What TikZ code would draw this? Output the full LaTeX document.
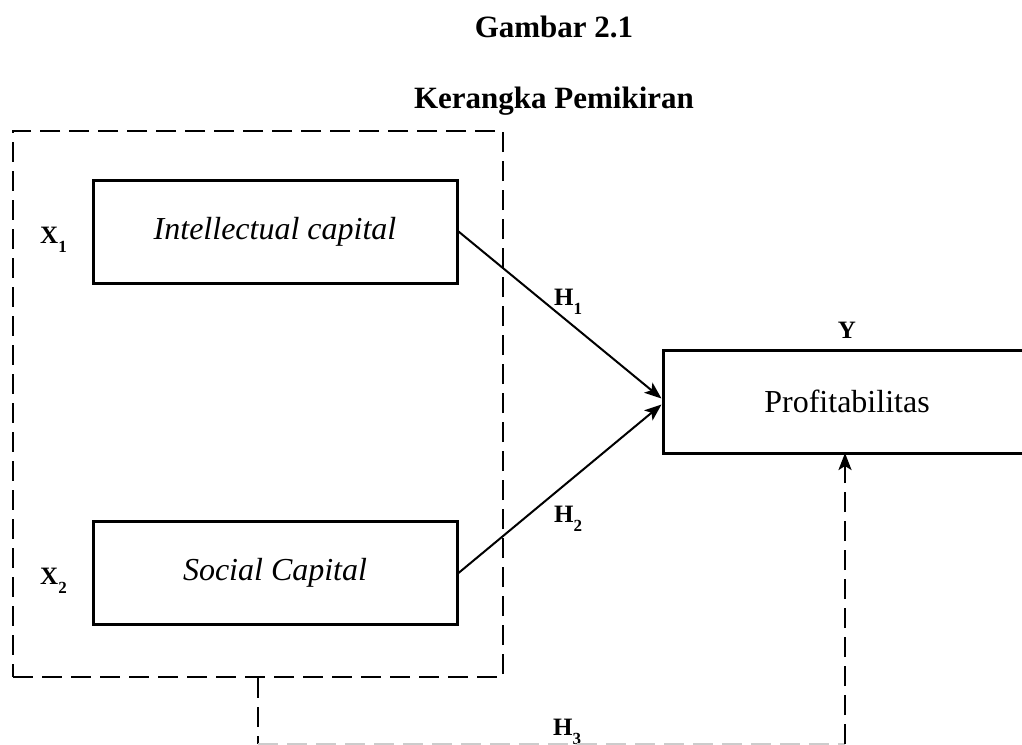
\documentclass[tikz,border=0pt]{standalone}
\usepackage{fontspec}
\setmainfont{Liberation Serif}
\usetikzlibrary{arrows.meta,calc}
\newcommand{\lsub}[1]{\raisebox{-9pt}{\fontsize{17}{17}\selectfont\bfseries #1}}
\begin{document}
\begin{tikzpicture}[x=1pt,y=-1pt,
  box/.style={draw,line width=3pt,minimum width=364pt,minimum height=103pt,inner sep=0pt,
    font=\fontsize{32}{38}\selectfont\itshape},
  lbl/.style={font=\fontsize{25}{29}\selectfont\bfseries,inner sep=0pt,anchor=base west},
  ttl/.style={font=\fontsize{31}{36}\selectfont\bfseries,inner sep=0pt,anchor=base},
  dsh/.style={line width=2.5pt,dash pattern=on 20pt off 9pt},
  arr/.style={line width=2pt,-{Stealth[length=17pt,width=13pt,inset=4pt]}}]
\useasboundingbox (0,0) rectangle (1022,744);
\node[ttl] (t1) at (554,37) {Gambar 2.1};
\node[ttl] (t2) at (554,108) {Kerangka Pemikiran};
\node[draw,dsh,minimum width=490pt,minimum height=546pt,inner sep=0pt] (grp) at (258,404) {};
\node[box] (ic) at (275,231.5) {Intellectual capital};
\node[box] (sc) at (275,573) {Social Capital};
\node[box,font=\fontsize{32}{38}\selectfont,minimum width=368pt] (pr) at (847,401.5) {Profitabilitas};
\node[lbl] (x1) at (40,243) {X\lsub{1}};
\node[lbl] (x2) at (40,584) {X\lsub{2}};
\node[lbl,anchor=base] (y) at (847,338) {Y};
\node[lbl] (h1) at (554,305) {H\lsub{1}};
\node[lbl] (h2) at (554,522) {H\lsub{2}};
\node[lbl] (h3) at (553,735) {H\lsub{3}};
\draw[arr] (ic.east) -- ($(pr.west)+(0,-3)$);
\draw[arr] (sc.east) -- ($(pr.west)+(0,3)$);
\coordinate (bl) at (258,744);
\coordinate (br) at (845,744);
\draw[dsh] (grp.south) -- (bl);
\draw[dsh,gray!40] (bl) -- (br);
\draw[dsh,-{Stealth[length=17pt,width=13pt,inset=4pt]}] (br) -- (845,453) coordinate (pt);
\end{tikzpicture}
\end{document}
